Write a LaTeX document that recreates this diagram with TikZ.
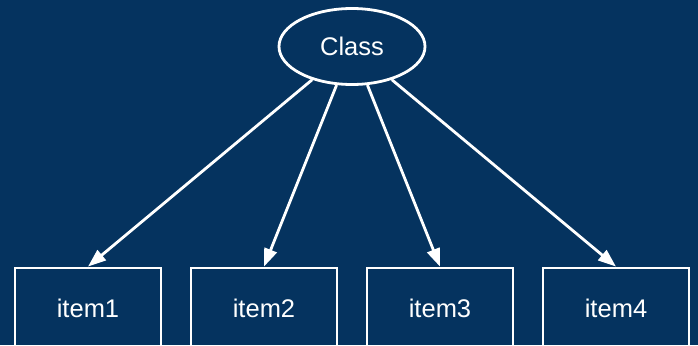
\documentclass[tikz,border=0pt]{standalone}
\usepackage{fontspec}
\setmainfont{Liberation Sans}
\usetikzlibrary{arrows.meta,shapes.geometric}
\definecolor{bgblue}{HTML}{05335F}
\tikzset{
  every node/.style={text=white, font=\fontsize{25.5}{30}\selectfont},
  latent/.style={ellipse, draw=white, line width=2.8pt, minimum width=146pt, minimum height=76pt, inner sep=0pt},
  itembox/.style={rectangle, draw=white, line width=2.8pt, minimum width=146pt, minimum height=80pt, inner sep=0pt},
  link/.style={draw=white, line width=2.8pt, -{Triangle[length=18pt,width=13pt]}}
}
\begin{document}
\begin{tikzpicture}[x=1pt,y=-1pt]
  \fill[bgblue] (0,0) rectangle (698,345);
  \useasboundingbox (0,0) rectangle (698,345);
  \clip (0,0) rectangle (698,345);
  \node[latent] (cls) at (352,46.5) {Class};
  \node[itembox] (i1) at (88,308) {item1};
  \node[itembox] (i2) at (264,308) {item2};
  \node[itembox] (i3) at (440,308) {item3};
  \node[itembox] (i4) at (616,308) {item4};
  \foreach \t in {i1,i2,i3,i4}
    \draw[link] (cls) -- (\t.north);
\end{tikzpicture}
\end{document}
